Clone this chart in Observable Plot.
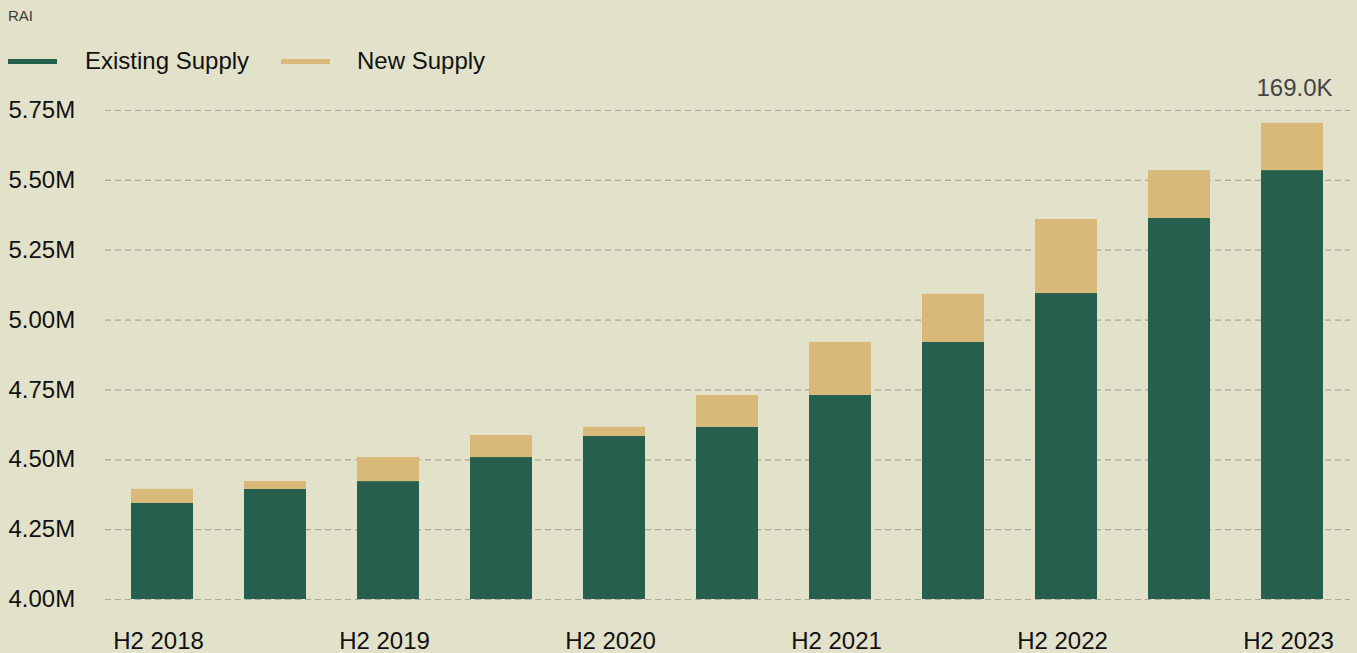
<!DOCTYPE html>
<html>
<head>
<meta charset="utf-8">
<script src="https://cdn.jsdelivr.net/npm/d3@7"></script>
<script src="https://cdn.jsdelivr.net/npm/@observablehq/plot@0.6"></script>
<style>
  html, body { margin: 0; padding: 0; background: #e2e1ca; }
  body { width: 1357px; height: 653px; overflow: hidden; font-family: "Liberation Sans", Arial, sans-serif; }
  #wrap { position: relative; width: 1357px; height: 653px; }
  #unit { position: absolute; left: 8px; top: 7px; font-size: 15px; color: #3a3a3a; }
  .leg { position: absolute; top: 47px; font-size: 24px; color: #111; line-height: 28px; }
  .sw { position: absolute; width: 49px; height: 5px; top: 59px; }
  #chart { position: absolute; left: 0; top: 0; }
</style>
</head>
<body>
<div id="wrap">
  <div id="chart"></div>
  <div id="unit">RAI</div>
  <div class="sw" style="left:8px;background:#275f4e"></div>
  <div class="leg" style="left:85px">Existing Supply</div>
  <div class="sw" style="left:281px;background:#d9b979"></div>
  <div class="leg" style="left:357px">New Supply</div>
</div>
<script>
const periods = ["H2 2018","H1 2019","H2 2019","H1 2020","H2 2020","H1 2021","H2 2021","H1 2022","H2 2022","H1 2023","H2 2023"];
const existingSupply = [4.344, 4.394, 4.422, 4.508, 4.584, 4.616, 4.730, 4.920, 5.095, 5.364, 5.535];
const newSupply = [0.050, 0.028, 0.086, 0.079, 0.032, 0.114, 0.190, 0.172, 0.265, 0.171, 0.169];
const seriesNames = ["Existing Supply", "New Supply"];
const seriesColors = ["#275f4e", "#d9b979"];
const yTicks = [4.00, 4.25, 4.50, 4.75, 5.00, 5.25, 5.50, 5.75];
const xTickLabels = ["H2 2018","H2 2019","H2 2020","H2 2021","H2 2022","H2 2023"];

const rows = [];
periods.forEach((p, i) => {
  rows.push({period: p, series: seriesNames[0], value: existingSupply[i]});
  rows.push({period: p, series: seriesNames[1], value: newSupply[i]});
});
const last = periods.length - 1;
const annot = [{period: periods[last], total: existingSupply[last] + newSupply[last], label: (newSupply[last] * 1000).toFixed(1) + "K"}];

const chart = Plot.plot({
  width: 1357,
  height: 653,
  marginTop: 110,
  marginBottom: 54,
  marginLeft: 105,
  marginRight: 7,
  style: {background: "transparent", fontFamily: "Liberation Sans, Arial, sans-serif", fontSize: "24px", color: "#111"},
  x: {domain: periods, paddingInner: 0.45, paddingOuter: 0.23, label: null},
  y: {domain: [4.0, 5.75], label: null},
  color: {domain: seriesNames, range: seriesColors},
  marks: [
    Plot.ruleY(yTicks, {stroke: "#a9a99d", strokeWidth: 1.2, strokeDasharray: "6,4"}),
    Plot.barY(rows, {x: "period", y: "value", fill: "series", clip: true, order: seriesNames}),
    Plot.text(annot, {x: "period", y: "total", text: "label", dy: -35, dx: 2, fill: "#444", fontSize: 24}),
    Plot.axisY(yTicks, {tickSize: 0, textAnchor: "start", dx: -97, tickPadding: 0, tickFormat: d => d.toFixed(2) + "M", fill: "#111", fontSize: 24, label: null}),
    Plot.axisX(xTickLabels, {tickSize: 0, tickPadding: 32, dx: -4, fill: "#111", fontSize: 24, label: null})
  ]
});
document.getElementById("chart").appendChild(chart);
</script>
</body>
</html>
